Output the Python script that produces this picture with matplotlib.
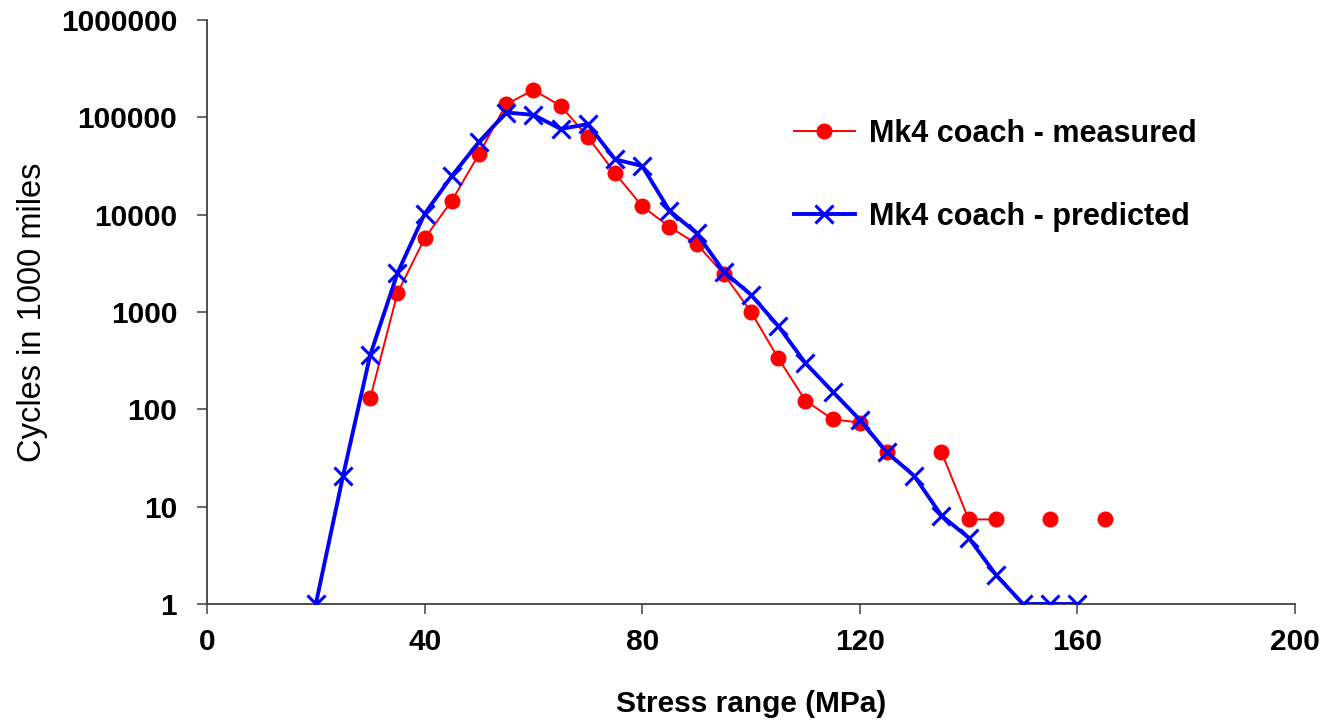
import numpy as np
import matplotlib
matplotlib.use("Agg")
import matplotlib.pyplot as plt
from matplotlib.ticker import FixedLocator, FuncFormatter, NullLocator

# ── Data ──────────────────────────────────────────────────────────────────────
# stress range bins (MPa); NaN marks bins with zero counts (gaps on log axis)
measured_x = [30, 35, 40, 45, 50, 55, 60, 65, 70, 75, 80, 85, 90, 95, 100,
              105, 110, 115, 120, 125, 130, 135, 140, 145, 150, 155, 160, 165]
measured_y = [130, 1560, 5700, 13900, 42000, 136000, 191000, 131000, 63000,
              26600, 12200, 7500, 5000, 2450, 1000, 335, 123, 79, 73, 36,
              np.nan, 36.5, 7.4, 7.4, np.nan, 7.4, np.nan, 7.4]

predicted_x = [20, 25, 30, 35, 40, 45, 50, 55, 60, 65, 70, 75, 80, 85, 90, 95,
               100, 105, 110, 115, 120, 125, 130, 135, 140, 145, 150, 155, 160]
predicted_y = [1, 20.7, 362, 2500, 10200, 24900, 56000, 112000, 106000, 76000,
               85000, 37000, 31600, 11000, 6450, 2600, 1500, 718, 298, 152, 78,
               36, 20.7, 8.1, 4.8, 2.0, 1, 1, 1]

x_ticks = [0, 40, 80, 120, 160, 200]
y_ticks = [1, 10, 100, 1000, 10000, 100000, 1000000]

FONT = "Liberation Sans"

# ─────────────────────────────────────────────────────────────────────────────
fig = plt.figure(figsize=(13.22, 7.21), dpi=100)
ax = fig.add_axes([0.1566, 0.1623, 0.823, 0.81])

ax.plot(measured_x, measured_y, color="#FF0000", lw=1.4, marker="o",
        ms=10.5, mec="#FF0000", mfc="#FF0000", label="Mk4 coach - measured",
        zorder=3)
ax.plot(predicted_x, predicted_y, color="#0000FF", lw=2.8, marker="x",
        ms=12.5, mew=2.2, label="Mk4 coach - predicted", zorder=4)

ax.set_yscale("log")
ax.set_xlim(0, 200)
ax.set_ylim(1, 1000000)
ax.xaxis.set_major_locator(FixedLocator(x_ticks))
ax.yaxis.set_major_locator(FixedLocator(y_ticks))
ax.yaxis.set_minor_locator(NullLocator())
ax.yaxis.set_major_formatter(FuncFormatter(lambda v, p: f"{int(round(v))}"))

for side in ("top", "right"):
    ax.spines[side].set_visible(False)
for side in ("left", "bottom"):
    ax.spines[side].set_color("#404040")
    ax.spines[side].set_linewidth(1.3)

ax.tick_params(axis="both", direction="out", length=7.5, width=1.1,
               color="#404040")
ax.tick_params(axis="y", pad=14)
ax.tick_params(axis="x", pad=10)
for lab in ax.get_xticklabels() + ax.get_yticklabels():
    lab.set_fontfamily(FONT)
    lab.set_fontweight("bold")
    lab.set_fontsize(21.5)

ax.set_xlabel("Stress range (MPa)", fontfamily=FONT, fontweight="bold",
              fontsize=21.5, labelpad=24)
ax.set_ylabel("Cycles in 1000 miles", fontfamily=FONT, fontsize=23.5,
              labelpad=9)

leg = ax.legend(loc="upper left", bbox_to_anchor=(0.514, 0.878),
                frameon=False, handlelength=2.0, handletextpad=0.45,
                labelspacing=1.75,
                prop={"family": FONT, "weight": "bold", "size": 22})

fig.savefig("out.png", dpi=100)
